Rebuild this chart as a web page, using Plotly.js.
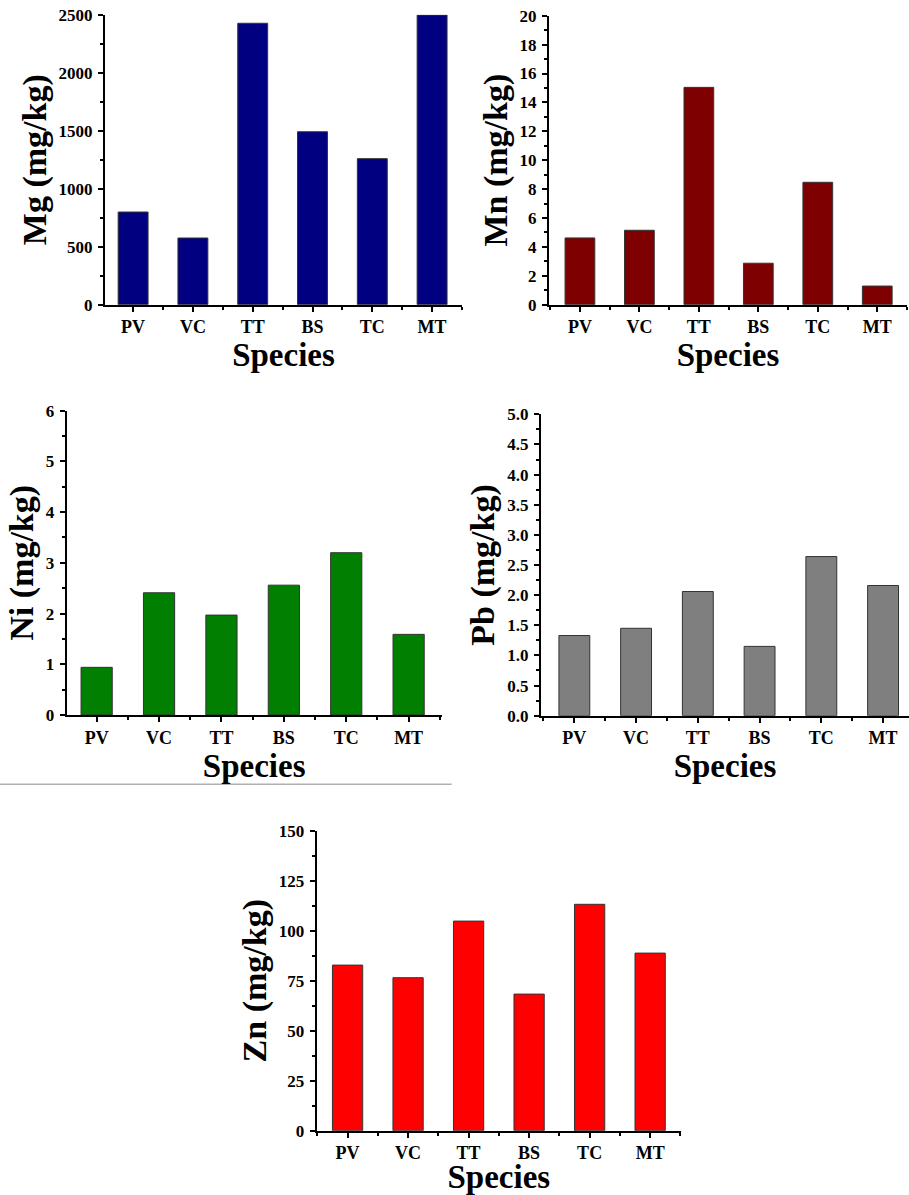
<!DOCTYPE html>
<html><head><meta charset="utf-8">
<script src="https://cdn.plot.ly/plotly-3.0.1.min.js"></script>
<style>html,body{margin:0;padding:0;background:#fff}</style>
</head><body><div id="chart" style="width:909px;height:1195px"></div>
<script>
// ---- data ----
const species = ["PV", "VC", "TT", "BS", "TC", "MT"];
const mgValues = [799, 575, 2426, 1491, 1259, 2497];
const mnValues = [4.62, 5.15, 15.04, 2.87, 8.47, 1.29];
const niValues = [0.94, 2.41, 1.97, 2.56, 3.20, 1.59];
const pbValues = [1.33, 1.45, 2.06, 1.15, 2.64, 2.16];
const znValues = [82.8, 76.5, 104.8, 68.3, 113.2, 88.8];
const yTitles = ["Mg (mg/kg)", "Mn (mg/kg)", "Ni (mg/kg)", "Pb (mg/kg)", "Zn (mg/kg)"];
const xTitle = "Species";

// ---- styling / layout (not data) ----
const W = 909, H = 1195;
const panels = [
  {vals: mgValues, color: "#000080", px: [105, 462], py: [14.7, 304.7], yr: [0, 2500], dt: 500, fmt: "d", xr: [-0.47, 5.5]},
  {vals: mnValues, color: "#7f0000", px: [549, 907], py: [15.7, 304.7], yr: [0, 20], dt: 2, fmt: "d", xr: [-0.52, 5.5]},
  {vals: niValues, color: "#007f00", px: [66.7, 441.7], py: [410.7, 715], yr: [0, 6], dt: 1, fmt: "d", xr: [-0.48, 5.53]},
  {vals: pbValues, color: "#7f7f7f", px: [541, 909], py: [414.3, 715.7], yr: [0, 5], dt: 0.5, fmt: ".1f", xr: [-0.54, 5.42]},
  {vals: znValues, color: "#ff0000", px: [316.7, 681], py: [830.7, 1130.7], yr: [0, 150], dt: 25, fmt: "d", xr: [-0.51, 5.51]}
];
const FONT = "Liberation Serif, Times New Roman, serif";
const positions = species.map((s, i) => i);

const data = [];
const layout = {
  width: W, height: H,
  margin: {l: 0, r: 0, t: 0, b: 0},
  paper_bgcolor: "#fff", plot_bgcolor: "#fff",
  showlegend: false,
  font: {family: FONT, color: "#000"},
  shapes: [{type: "line", xref: "paper", yref: "paper", x0: 0, x1: 451.7 / W,
            y0: 1 - 784.3 / H, y1: 1 - 784.3 / H, line: {color: "#b0b0b0", width: 1.5}}]
};

panels.forEach((p, k) => {
  const n = k === 0 ? "" : String(k + 1);
  data.push({
    type: "bar", x: positions, y: p.vals,
    xaxis: "x" + n, yaxis: "y" + n,
    width: 0.5,
    marker: {color: p.color, line: {color: "#333", width: 1}},
    hoverinfo: "x+y"
  });
  layout["xaxis" + n] = {
    domain: [p.px[0] / W, p.px[1] / W],
    anchor: "y" + n,
    range: p.xr, type: "linear",
    tickvals: positions, ticktext: species,
    showgrid: false, zeroline: false,
    showline: true, linewidth: 2, linecolor: "#000",
    ticks: "outside", ticklen: 5, tickwidth: 2, tickcolor: "#000",
    minor: {tick0: 0.5, dtick: 1, ticks: "outside", ticklen: 3, tickwidth: 2, tickcolor: "#000"},
    tickfont: {family: FONT, size: 18, weight: "bold", color: "#000"},
    title: {text: xTitle, font: {family: FONT, size: 33, weight: "bold", color: "#000"}, standoff: 0},
    fixedrange: true
  };
  layout["yaxis" + n] = {
    domain: [1 - p.py[1] / H, 1 - p.py[0] / H],
    anchor: "x" + n,
    range: p.yr, dtick: p.dt, tick0: 0, tickformat: p.fmt,
    showgrid: false, zeroline: false,
    showline: true, linewidth: 2, linecolor: "#000",
    ticks: "outside", ticklen: 5, tickwidth: 2, tickcolor: "#000",
    minor: {dtick: p.dt / 2, ticks: "outside", ticklen: 3, tickwidth: 2, tickcolor: "#000"},
    tickfont: {family: FONT, size: 17, weight: "bold", color: "#000"},
    ticklabelstandoff: 2,
    title: {text: yTitles[k], font: {family: FONT, size: 34, weight: "bold", color: "#000"}, standoff: 2},
    fixedrange: true
  };
});

Plotly.newPlot("chart", data, layout, {displayModeBar: false, staticPlot: true});
</script>
</body></html>
